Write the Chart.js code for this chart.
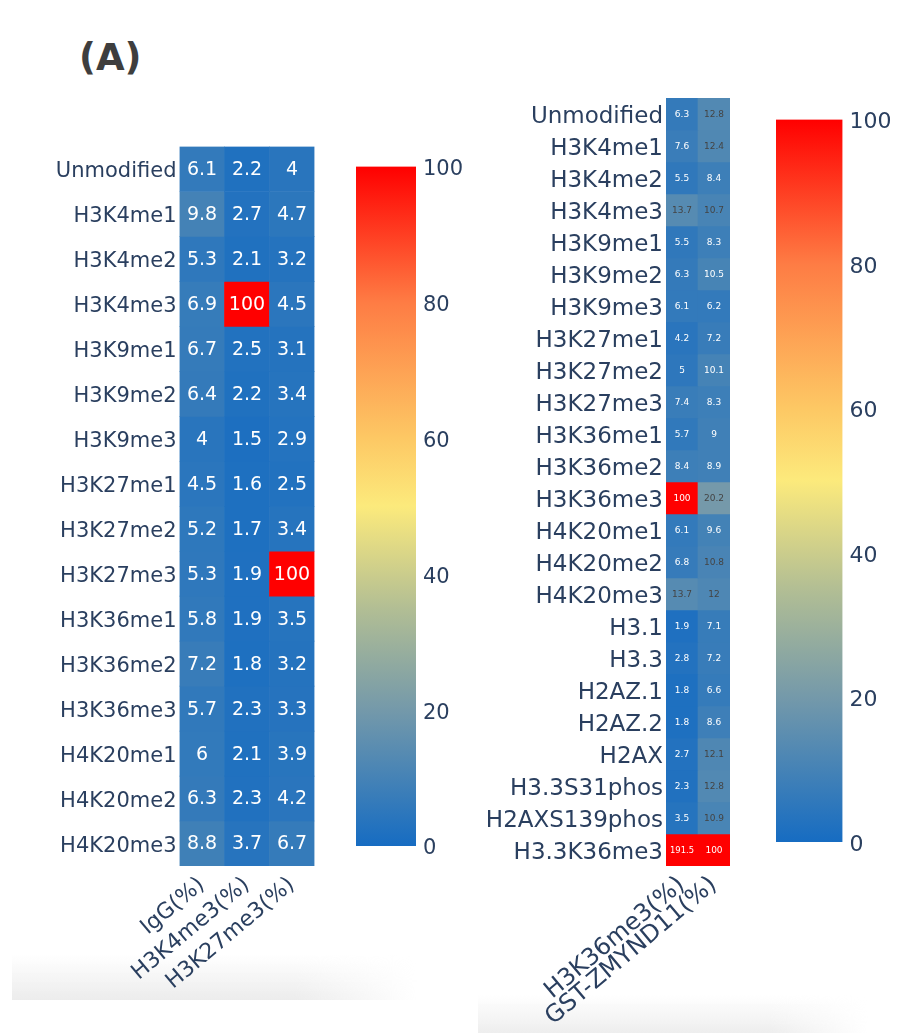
<!DOCTYPE html>
<html>
<head>
<meta charset="utf-8">
<script src="https://cdn.jsdelivr.net/npm/chart.js@4.4.1/dist/chart.umd.min.js"></script>
<style>
html,body{margin:0;padding:0;background:#fff;}
body{width:903px;height:1033px;position:relative;overflow:hidden;}
canvas{position:absolute;left:0;top:0;}
#title{position:absolute;left:79px;top:37px;font:bold 37px "DejaVu Sans";line-height:42px;color:#3e3e3e;}
#shadeL{position:absolute;left:12px;top:955px;width:405px;height:45px;
  background:linear-gradient(to bottom,rgba(236,236,236,0),rgba(234,234,234,0.9));
  -webkit-mask-image:linear-gradient(to right,#000 70%,transparent);mask-image:linear-gradient(to right,#000 70%,transparent);}
#shadeR{position:absolute;left:478px;top:995px;width:390px;height:38px;
  background:linear-gradient(to bottom,rgba(238,238,238,0),rgba(236,236,236,0.9));
  -webkit-mask-image:linear-gradient(to right,#000 75%,transparent);mask-image:linear-gradient(to right,#000 75%,transparent);}
</style>
</head>
<body>
<div id="shadeL"></div>
<div id="shadeR"></div>
<div id="title">(A)</div>
<canvas id="hmL" width="903" height="1033"></canvas>
<canvas id="cbL" width="903" height="1033"></canvas>
<canvas id="hmR" width="903" height="1033"></canvas>
<canvas id="cbR" width="903" height="1033"></canvas>
<script>
// ---------- DATA ----------
const leftRows = ["Unmodified","H3K4me1","H3K4me2","H3K4me3","H3K9me1","H3K9me2","H3K9me3","H3K27me1","H3K27me2","H3K27me3","H3K36me1","H3K36me2","H3K36me3","H4K20me1","H4K20me2","H4K20me3"];
const leftCols = ["IgG(%)","H3K4me3(%)","H3K27me3(%)"];
const leftIgG      = [6.1,9.8,5.3,6.9,6.7,6.4,4,4.5,5.2,5.3,5.8,7.2,5.7,6,6.3,8.8];
const leftH3K4me3  = [2.2,2.7,2.1,100,2.5,2.2,1.5,1.6,1.7,1.9,1.9,1.8,2.3,2.1,2.3,3.7];
const leftH3K27me3 = [4,4.7,3.2,4.5,3.1,3.4,2.9,2.5,3.4,100,3.5,3.2,3.3,3.9,4.2,6.7];

const rightRows = ["Unmodified","H3K4me1","H3K4me2","H3K4me3","H3K9me1","H3K9me2","H3K9me3","H3K27me1","H3K27me2","H3K27me3","H3K36me1","H3K36me2","H3K36me3","H4K20me1","H4K20me2","H4K20me3","H3.1","H3.3","H2AZ.1","H2AZ.2","H2AX","H3.3S31phos","H2AXS139phos","H3.3K36me3"];
const rightCols = ["H3K36me3(%)","GST-ZMYND11(%)"];
const rightH3K36me3 = [6.3,7.6,5.5,13.7,5.5,6.3,6.1,4.2,5,7.4,5.7,8.4,100,6.1,6.8,13.7,1.9,2.8,1.8,1.8,2.7,2.3,3.5,191.5];
const rightGST      = [12.8,12.4,8.4,10.7,8.3,10.5,6.2,7.2,10.1,8.3,9,8.9,20.2,9.6,10.8,12,7.1,7.2,6.6,8.6,12.1,12.8,10.9,100];

const colorbarRange = [0,100];
const colorbarTicks = [0,20,40,60,80,100];

// ---------- STYLE ----------
const FONT = "DejaVu Sans";
const LABEL_COLOR = "#2a3f5f";
const STOPS = [
  [0.00,[22,108,194]],
  [0.20,[116,153,170]],
  [0.35,[178,190,148]],
  [0.50,[252,234,124]],
  [0.60,[253,200,100]],
  [0.80,[254,124,68]],
  [1.00,[255,0,0]]
];
function rgbAt(t){
  t=Math.max(0,Math.min(1,t));
  for(let i=1;i<STOPS.length;i++){
    if(t<=STOPS[i][0]){
      const a=STOPS[i-1],b=STOPS[i];const f=(t-a[0])/(b[0]-a[0]);
      return a[1].map((c,k)=>Math.round(c+(b[1][k]-c)*f));
    }
  }
  return STOPS[STOPS.length-1][1];
}
function colorFor(v){const c=rgbAt((v-colorbarRange[0])/(colorbarRange[1]-colorbarRange[0]));return `rgb(${c[0]},${c[1]},${c[2]})`;}

Chart.defaults.font.family = FONT;
Chart.defaults.color = LABEL_COLOR;

const cellText = {
  id:'cellText',
  afterDatasetsDraw(chart){
    const o = chart.options.plugins.cellText;
    const ctx = chart.ctx;
    ctx.save();
    ctx.textAlign='center';ctx.textBaseline='middle';
    chart.data.datasets.forEach((ds,i)=>{
      const meta = chart.getDatasetMeta(i);
      meta.data.forEach((bar,j)=>{
        const v = ds.values[j];
        const p = bar.getProps(['x','y','base','width'],true);
        const cy=(p.y+p.base)/2;
        const txt=String(v);
        let fs=o.size;
        ctx.font=`${fs}px "${FONT}"`;
        const w=ctx.measureText(txt).width;
        if(w>p.width*o.fit){fs=fs*p.width*o.fit/w;ctx.font=`${fs}px "${FONT}"`;}
        ctx.fillStyle = (v>o.darkMin && v<o.darkMax) ? o.dark : '#ffffff';
        ctx.fillText(txt,p.x,cy+1);
      });
    });
    ctx.restore();
  }
};

function heatmap(id, rows, cols, colArrays, g){
  const datasets = rows.map((r,i)=>{
    const vals = colArrays.map(a=>a[i]);
    return {label:r,data:cols.map(()=>1),values:vals,backgroundColor:vals.map(colorFor),
      borderWidth:0,barPercentage:1,categoryPercentage:1,borderSkipped:false};
  });
  return new Chart(document.getElementById(id),{
    type:'bar',
    data:{labels:cols,datasets},
    plugins:[cellText],
    options:{
      responsive:false,animation:false,devicePixelRatio:1,events:[],
      layout:{padding:{left:0,top:g.top,right:903-g.right,bottom:0}},
      plugins:{legend:{display:false},tooltip:{enabled:false},
        cellText:{size:g.cellFont,fit:g.fit,dark:'#444444',darkMin:g.darkMin,darkMax:60}},
      scales:{
        x:{type:'category',stacked:true,offset:true,
          grid:{display:false,drawTicks:false},border:{display:false},
          ticks:{font:{size:g.colFont},color:LABEL_COLOR,minRotation:40,maxRotation:40,padding:g.colPad,autoSkip:false},
          afterFit:s=>{s.height=1033-g.bottom;}},
        y:{type:'linear',stacked:true,reverse:true,min:0,max:rows.length,
          grid:{display:false,drawTicks:false},border:{display:false},
          afterBuildTicks:s=>{s.ticks=rows.map((r,i)=>({value:i+0.5}));},
          ticks:{font:{size:g.rowFont},color:LABEL_COLOR,padding:3,autoSkip:false,labelOffset:3,
            callback:(v,i)=>rows[i]},
          afterFit:s=>{s.width=g.left;}}
      }
    }
  });
}

function colorbar(id,g){
  return new Chart(document.getElementById(id),{
    type:'bar',
    data:{labels:[''],datasets:[{data:[colorbarRange],borderWidth:0,barPercentage:1,categoryPercentage:1,borderSkipped:false,
      backgroundColor:(c)=>{const a=c.chart.chartArea;if(!a)return '#888';
        const gr=c.chart.ctx.createLinearGradient(0,a.bottom,0,a.top);
        STOPS.forEach(s=>gr.addColorStop(s[0],`rgb(${s[1].join(',')})`));return gr;}}]},
    options:{
      responsive:false,animation:false,devicePixelRatio:1,events:[],
      layout:{padding:{left:g.left,top:g.top,right:903-g.right-g.axisW,bottom:1033-g.bottom}},
      plugins:{legend:{display:false},tooltip:{enabled:false}},
      scales:{
        x:{display:false,offset:true},
        y:{position:'right',min:colorbarRange[0],max:colorbarRange[1],
          grid:{display:false,drawTicks:false},border:{display:false},
          afterBuildTicks:s=>{s.ticks=colorbarTicks.map(v=>({value:v}));},
          ticks:{font:{size:g.font},color:LABEL_COLOR,padding:g.pad,labelOffset:3},
          afterFit:s=>{s.width=g.axisW;}}
      }
    }
  });
}

heatmap('hmL',leftRows,leftCols,[leftIgG,leftH3K4me3,leftH3K27me3],
  {left:179.5,right:314.5,top:146.5,bottom:866,rowFont:21,colFont:22,cellFont:19,fit:0.9,colPad:6,darkMin:1000});
heatmap('hmR',rightRows,rightCols,[rightH3K36me3,rightGST],
  {left:666,right:730,top:98,bottom:866,rowFont:23,colFont:24,cellFont:9,fit:0.75,colPad:5,darkMin:10.6});
colorbar('cbL',{left:356,right:416,top:166.5,bottom:846,axisW:70,font:21,pad:7});
colorbar('cbR',{left:776,right:842.5,top:119.5,bottom:842,axisW:55,font:22,pad:7});
</script>
</body>
</html>
